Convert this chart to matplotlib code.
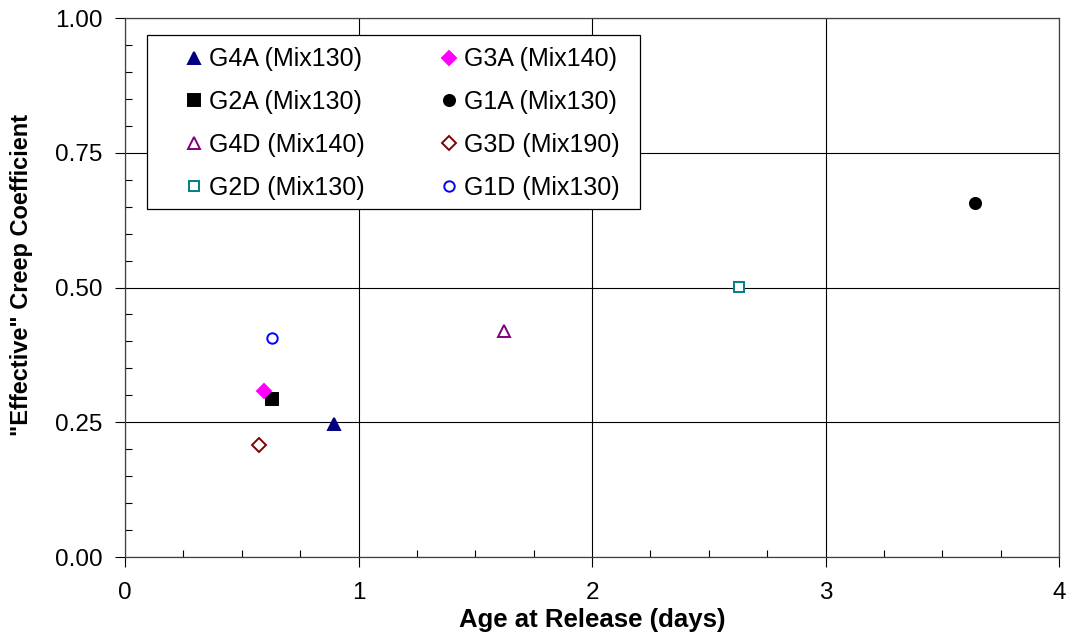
import matplotlib
matplotlib.use("Agg")
import matplotlib.pyplot as plt
from matplotlib.ticker import MultipleLocator
from matplotlib.patches import Rectangle

plt.rcParams['font.family'] = ['Liberation Sans', 'DejaVu Sans']

# age at release (days) and effective creep coefficient for each girder
labels = ["G4A (Mix130)", "G2A (Mix130)", "G4D (Mix140)", "G2D (Mix130)",
          "G3A (Mix140)", "G1A (Mix130)", "G3D (Mix190)", "G1D (Mix130)"]
age = [0.895, 0.631, 1.623, 2.63, 0.595, 3.64, 0.574, 0.628]
creep = [0.246, 0.293, 0.420, 0.501, 0.308, 0.657, 0.207, 0.406]

markers = ["^", "s", "^", "s", "D", "o", "D", "o"]
colors = ["#000080", "#000000", "#800080", "#008080",
          "#FF00FF", "#000000", "#800000", "#0000FF"]
filled = [True, True, False, False, True, True, False, False]
sizes = [9, 8, 9, 7.5, 7, 8, 7, 7.5]

fig = plt.figure(figsize=(10.72, 6.43), dpi=100)
ax = fig.add_axes([0.1166, 0.1337, 0.8713, 0.8383])

for i in range(len(labels)):
    ax.plot(age[i], creep[i], linestyle="none", marker=markers[i], markersize=sizes[i],
            markeredgecolor=colors[i], markeredgewidth=1.4,
            markerfacecolor=colors[i] if filled[i] else "white",
            label=labels[i], zorder=5)

ax.set_xlim(0, 4)
ax.set_ylim(0, 1)
ax.xaxis.set_major_locator(MultipleLocator(1))
ax.xaxis.set_minor_locator(MultipleLocator(0.25))
ax.yaxis.set_major_locator(MultipleLocator(0.25))
ax.yaxis.set_minor_locator(MultipleLocator(0.05))
ax.set_yticklabels(["%.2f" % v for v in ax.get_yticks()])
ax.grid(True, which="major", color="black", linewidth=0.8)
ax.tick_params(which="major", direction="out", length=7, width=0.8, labelsize=17.5)
ax.tick_params(axis="x", which="major", pad=11)
ax.tick_params(axis="y", which="major", pad=9)
ax.tick_params(which="minor", direction="in", length=5, width=0.8)
for s in ax.spines.values():
    s.set_color("#404040")
    s.set_linewidth(0.9)

ax.set_xlabel("Age at Release (days)", fontsize=18.5, fontweight="bold", labelpad=3)
ax.set_ylabel('"Effective" Creep Coefficient', fontsize=17, fontweight="bold")
ax.yaxis.set_label_coords(-0.0985, 0.523)

# legend box drawn separately so the entries can sit further in from the edge
box = Rectangle((0.0236, 0.6456), 0.5278, 0.3229, transform=ax.transAxes,
                facecolor="white", edgecolor="black", linewidth=0.9, zorder=9)
ax.add_patch(box)

leg = ax.legend(ncol=2, loc="upper left", bbox_to_anchor=(0.0632, 0.9453), fontsize=18,
                frameon=False, handlelength=0.8, handletextpad=0.2, columnspacing=2.95,
                labelspacing=0.75, borderpad=0, borderaxespad=0, numpoints=1)
leg.set_zorder(10)

fig.savefig("out.png", dpi=100)
